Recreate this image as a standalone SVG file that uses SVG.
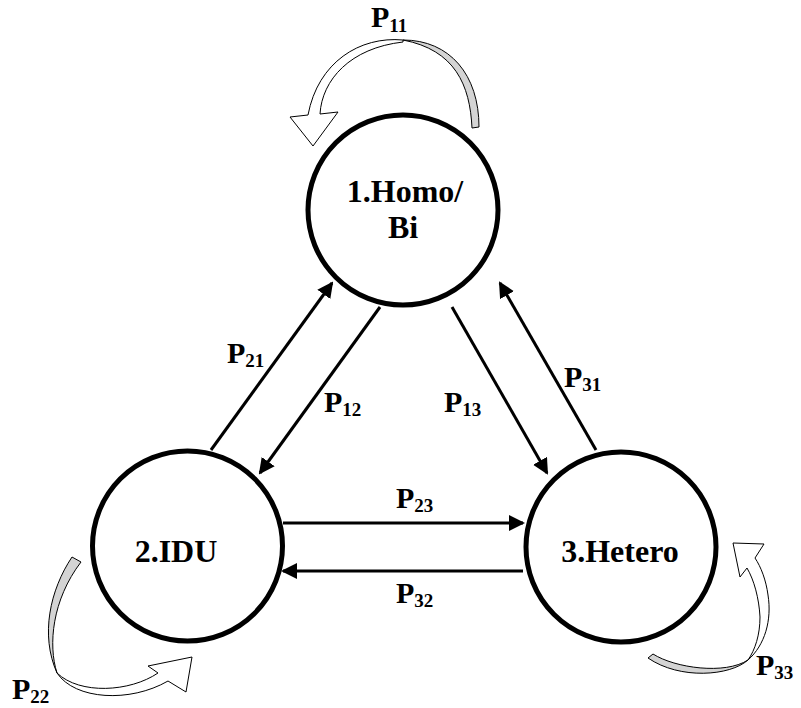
<svg xmlns="http://www.w3.org/2000/svg" width="801" height="708" viewBox="0 0 801 708">
  <style>
    .node { fill: #ffffff; stroke: #000000; stroke-width: 5; }
    .lbl { font-family: "Liberation Serif", "Times New Roman", serif; font-weight: bold; font-size: 32px; fill: #000; }
    .p { font-family: "Liberation Serif", "Times New Roman", serif; font-weight: bold; font-size: 30px; fill: #000; }
    .sub { font-size: 19px; }
    .edge { stroke: #000; stroke-width: 3; fill: none; marker-end: url(#ah); }
    .back { fill: #d4d4d4; stroke: #000; stroke-width: 1; stroke-linejoin: round; }
    .front { fill: #ffffff; stroke: #000; stroke-width: 1; stroke-linejoin: miter; }
  </style>
  <defs>
    <marker id="ah" viewBox="0 0 16 16" refX="14" refY="8" markerWidth="16" markerHeight="16" markerUnits="userSpaceOnUse" orient="auto">
      <path d="M0,0 L16,8 L0,16 z" fill="#000"/>
    </marker>
  </defs>
  <rect width="801" height="708" fill="#ffffff"/>

  <g id="node1">
    <circle class="node" cx="403" cy="210" r="95"/>
    <text class="lbl" x="405" y="202" text-anchor="middle">1.Homo/</text>
    <text class="lbl" x="403" y="238" text-anchor="middle">Bi</text>
  </g>
  <g id="node2">
    <circle class="node" cx="187.5" cy="546" r="95"/>
    <text class="lbl" x="176" y="562" text-anchor="middle">2.IDU</text>
  </g>
  <g id="node3">
    <circle class="node" cx="621" cy="547" r="95"/>
    <text class="lbl" x="620" y="562" text-anchor="middle">3.Hetero</text>
  </g>

  <g id="connectors">
    <line class="edge" x1="211" y1="450" x2="332" y2="283"/>
    <line class="edge" x1="380" y1="307" x2="260" y2="473"/>
    <line class="edge" x1="452" y1="307" x2="547" y2="473"/>
    <line class="edge" x1="596" y1="450" x2="500" y2="283"/>
    <line class="edge" x1="283" y1="523" x2="523" y2="523"/>
    <line class="edge" x1="523" y1="571" x2="283" y2="571"/>

    <g id="loop11">
      <path class="back" d="M472,128 C470,85 455,50 403,40 C450,40 479,75 479,127 Z"/>
      <path class="front" d="M403,40 C360,36 318,62 308,115 L290,117 L313,146 L338,112 L320,114 C322,80 350,48 403,42 Z"/>
    </g>
    <g id="loop22">
      <path class="back" d="M72,557 C50,590 40,635 57,673 C48,645 52,600 81,562 Z"/>
      <path class="front" d="M57,673 C75,700 130,703 168,681 L186,692 L192,657 L148,666 L158,673 C130,692 80,695 57,673 Z"/>
    </g>
    <g id="loop33">
      <path class="back" d="M648,658 L653,654 C675,668 725,675 748,660 C730,676 680,680 648,658 Z"/>
      <path class="front" d="M748,660 C765,645 772,620 768,595 C766,580 761,567 755,558 L764,544 L733,543 L740,577 L747,568 C754,580 759,598 760,617 C760,635 755,650 748,660 Z"/>
    </g>
  </g>

  <g id="labels">
    <text class="p" x="371" y="27">P<tspan class="sub" dy="5">11</tspan></text>
    <text class="p" x="227" y="363">P<tspan class="sub" dy="4">21</tspan></text>
    <text class="p" x="324" y="412">P<tspan class="sub" dy="4">12</tspan></text>
    <text class="p" x="444" y="412">P<tspan class="sub" dy="4">13</tspan></text>
    <text class="p" x="564" y="387">P<tspan class="sub" dy="4">31</tspan></text>
    <text class="p" x="396" y="508">P<tspan class="sub" dy="4">23</tspan></text>
    <text class="p" x="396" y="603">P<tspan class="sub" dy="4">32</tspan></text>
    <text class="p" x="12" y="699">P<tspan class="sub" dy="4">22</tspan></text>
    <text class="p" x="756" y="675">P<tspan class="sub" dy="4">33</tspan></text>
  </g>
</svg>
